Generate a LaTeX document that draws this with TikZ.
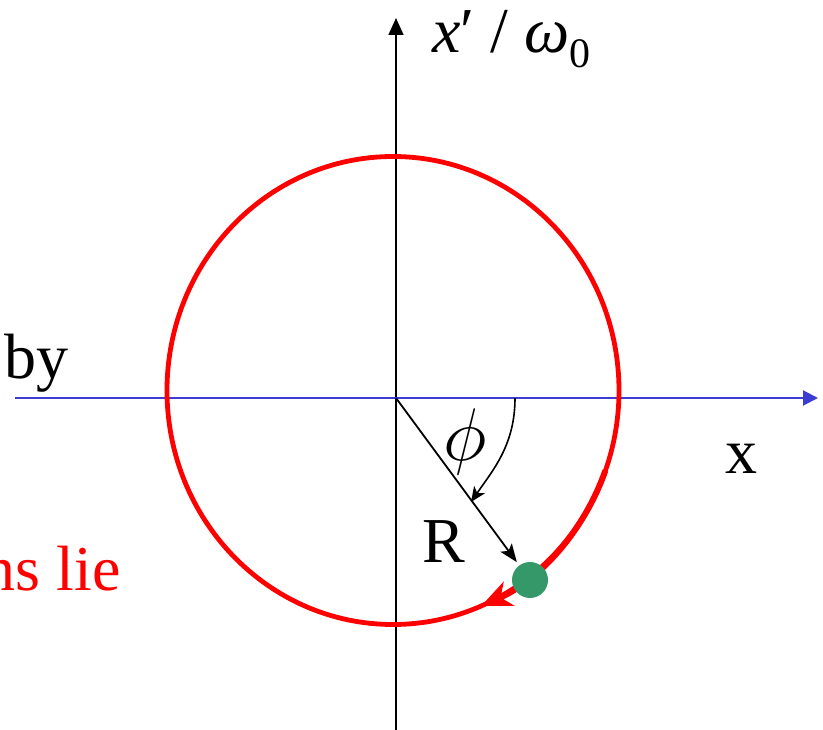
\documentclass[tikz,border=0pt]{standalone}
\usepackage{fontspec}
\setmainfont{Liberation Serif}
\usepackage{xcolor}
\usepackage{graphicx}
\usepackage{tikz}
\usetikzlibrary{arrows.meta}

\definecolor{axisblue}{RGB}{60,60,210}
\definecolor{dotgreen}{RGB}{53,152,104}

\begin{document}
\begin{tikzpicture}[
    x=1pt, y=-1pt,
    font=\fontsize{64}{70}\selectfont,
    lbl/.style={inner sep=0pt},
    vaxis/.style={line width=1.8pt, -{Triangle[length=17pt,width=15pt]}},
    haxis/.style={line width=2pt, draw=axisblue, -{Triangle[length=15pt,width=15pt]}},
    orbit/.style={line width=4.8pt, draw=red},
    orbitarr/.style={line width=6pt, draw=red, -{Stealth[length=30pt,width=26pt,inset=9pt]}},
    radarr/.style={line width=1.8pt, -{Stealth[length=18pt,width=14pt,inset=4pt]}, shorten >=4pt},
    angarr/.style={line width=1.6pt, -{Stealth[length=15pt,width=13pt,inset=4pt]}},
]
\useasboundingbox (0,0) rectangle (823,730);

% axes
\coordinate (O) at (396,398);
\coordinate (vbot) at (396,730);
\coordinate (vtop) at (396,18);
\coordinate (hleft) at (15,398);
\coordinate (hright) at (818,398);
\draw[vaxis] (vbot) -- (vtop);
\draw[haxis] (hleft) -- (hright);

% orbit
\coordinate (C) at (393,390.5);
\draw[orbit] (C) ellipse [x radius=226, y radius=234];
\draw[orbitarr] (C) ++(20:226 and 234) arc [start angle=20, end angle=67, x radius=226, y radius=234];

% particle, radius and angle
\node[circle, fill=dotgreen, minimum size=36pt, inner sep=0pt] (dot) at (530,580) {};
\draw[radarr] (O) -- (dot);
\coordinate (phistart) at (515,398);
\coordinate (phiend) at (471,502);
\draw[angarr] (phistart) .. controls (515,445) and (493,470) .. (phiend);

% labels
\node[lbl, anchor=base west] (ylabel) at (432,53) {\textit{x}′ / \textit{ω}\raisebox{-0.22em}{\fontsize{42}{42}\selectfont 0}};
\node[lbl, anchor=base] (xlabel) at (741,473) {x};
\node[lbl, anchor=base] (rlabel) at (444,562) {R};
\node[lbl] (philabel) at (465,442) {\scalebox{3}{$\phi$}};
\node[lbl, anchor=base west] (bylabel) at (4,378) {by};
\node[lbl, anchor=base east, text=red] (lielabel) at (121,590) {ns lie};
\end{tikzpicture}
\end{document}
